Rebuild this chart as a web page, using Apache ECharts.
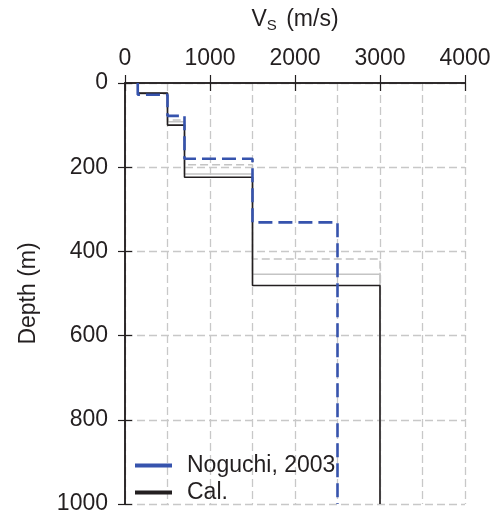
<!DOCTYPE html>
<html>
<head>
<meta charset="utf-8">
<script src="https://cdn.jsdelivr.net/npm/echarts@6/dist/echarts.min.js"></script>
<style>
  html, body { margin: 0; padding: 0; background: #fff; }
  #chart { width: 497px; height: 519px; }
</style>
</head>
<body>
<div id="chart"></div>
<script>
// Shear-wave velocity layers: velocity (m/s) and depth of each layer's base (m)
const noguchiVs   = [150, 500, 700, 1500, 2500];
const noguchiBase = [28, 78, 180, 331, 1000];

const calVs   = [150, 500, 700, 1500, 3000];
const calBase = [24, 100, 224, 481, 1000];

// Intermediate trial models drawn in light grey
const trialAVs   = [150, 500, 700, 1500, 3000];
const trialABase = [26, 88, 194, 418, 1000];
const trialBVs   = [150, 500, 700, 1500, 3000];
const trialBBase = [24, 92, 216, 454, 1000];

const velocityMax = 4000;
const depthMax = 1000;

// Turn layer lists into a stepped profile (velocity vs depth)
function profile(vs, base) {
  const pts = [];
  let top = 0;
  for (let i = 0; i < vs.length; i++) {
    pts.push([vs[i], top]);
    pts.push([vs[i], base[i]]);
    top = base[i];
  }
  return pts;
}

const FONT = 'Arial';
const INK = '#231f20';
const plain = v => String(v);
const gridLine = { show: true, lineStyle: { color: '#c8c8c8', width: 1.3, type: [8, 4] } };

const chart = echarts.init(document.getElementById('chart'), null, { renderer: 'canvas' });

chart.setOption({
  backgroundColor: '#fff',
  animation: false,
  textStyle: { fontFamily: FONT, color: INK },
  grid: { left: 125, right: 32, top: 83, bottom: 15 },
  legend: {
    orient: 'vertical',
    left: 130,
    top: 449,
    itemWidth: 37,
    itemHeight: 4,
    itemGap: 4,
    icon: 'rect',
    data: ['Noguchi, 2003', 'Cal.'],
    textStyle: { fontSize: 23, lineHeight: 23, color: INK, fontFamily: FONT, padding: [0, 0, 0, 10] }
  },
  xAxis: [
    {
      type: 'value',
      position: 'top',
      min: 0, max: velocityMax, interval: 1000,
      name: 'V{sub|S} (m/s)',
      nameLocation: 'middle',
      nameGap: 50,
      nameTextStyle: {
        fontSize: 23, color: INK, fontFamily: FONT,
        rich: { sub: { fontSize: 15, verticalAlign: 'bottom', padding: [12, 3, 0, 0], color: INK, fontFamily: FONT } }
      },
      axisLine: { show: true, lineStyle: { color: INK, width: 1.5 } },
      axisTick: { show: true, inside: false, length: 8, lineStyle: { color: INK, width: 1.2 } },
      axisLabel: { fontSize: 23, color: INK, margin: 13, fontFamily: FONT, formatter: plain },
      splitLine: gridLine,
      minorTick: { show: false, splitNumber: 2 },
      minorSplitLine: gridLine
    },
    {
      type: 'value',
      position: 'bottom',
      min: 0, max: velocityMax, interval: 1000,
      axisLine: { show: true, lineStyle: { color: INK, width: 1.5 } },
      axisTick: { show: true, inside: false, length: 8, lineStyle: { color: INK, width: 1.2 } },
      axisLabel: { show: false },
      splitLine: { show: false }
    }
  ],
  yAxis: [
    {
      type: 'value',
      position: 'left',
      inverse: true,
      min: 0, max: depthMax, interval: 200,
      name: 'Depth (m)',
      nameLocation: 'middle',
      nameGap: 85,
      nameTextStyle: { fontSize: 23, color: INK, fontFamily: FONT },
      axisLine: { show: true, lineStyle: { color: INK, width: 1.5 } },
      axisTick: { show: true, inside: false, length: 7, lineStyle: { color: INK, width: 1.2 } },
      axisLabel: { fontSize: 23, color: INK, margin: 17, fontFamily: FONT, formatter: plain },
      splitLine: gridLine
    },
    {
      type: 'value',
      position: 'right',
      inverse: true,
      min: 0, max: depthMax, interval: 200,
      axisLine: { show: true, lineStyle: { color: INK, width: 1.5 } },
      axisTick: { show: true, inside: false, length: 7, lineStyle: { color: INK, width: 1.2 } },
      axisLabel: { show: false },
      splitLine: { show: false }
    }
  ],
  series: [
    {
      name: 'trial A', type: 'line', xAxisIndex: 0, yAxisIndex: 0,
      data: profile(trialAVs, trialABase), showSymbol: false, silent: true,
      lineStyle: { color: '#c4c4c4', width: 1.5, type: [8, 4] }
    },
    {
      name: 'trial B', type: 'line', xAxisIndex: 0, yAxisIndex: 0,
      data: profile(trialBVs, trialBBase), showSymbol: false, silent: true,
      lineStyle: { color: '#c4c4c4', width: 1.5 }
    },
    {
      name: 'Cal.', type: 'line', xAxisIndex: 0, yAxisIndex: 0,
      data: profile(calVs, calBase), showSymbol: false,
      itemStyle: { color: '#231f20' },
      lineStyle: { color: '#231f20', width: 1.6 }
    },
    {
      name: 'Noguchi, 2003', type: 'line', xAxisIndex: 0, yAxisIndex: 0,
      data: profile(noguchiVs, noguchiBase), showSymbol: false,
      itemStyle: { color: '#3653ad' },
      lineStyle: { color: '#3653ad', width: 2.6, type: [14, 6] }
    }
  ]
});
</script>
</body>
</html>
